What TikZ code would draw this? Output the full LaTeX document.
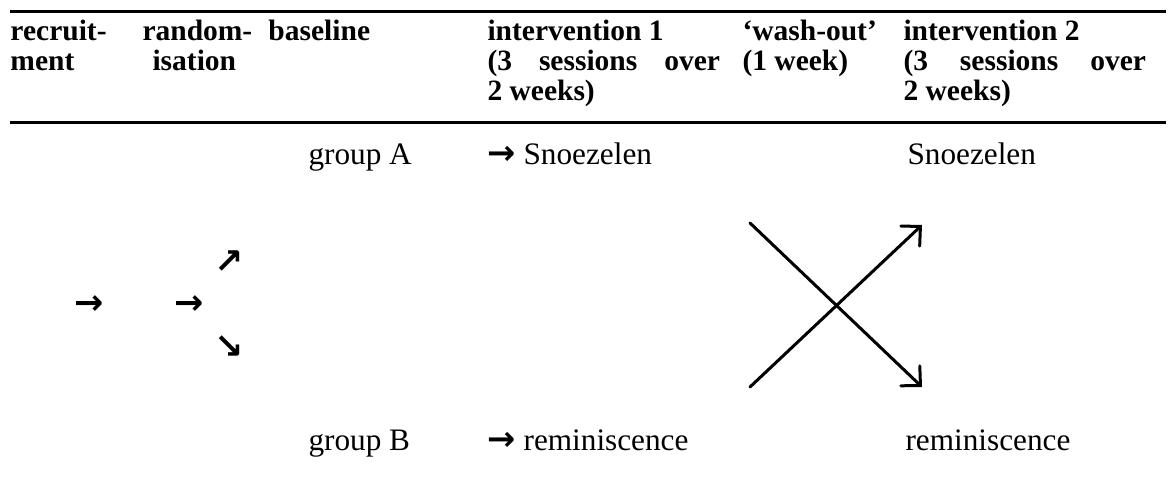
\documentclass[tikz,border=0pt]{standalone}
\usepackage{fontspec}
\setmainfont{Liberation Serif}
\newfontfamily\arrowfont{DejaVu Sans}
\usetikzlibrary{arrows.meta}
\newcommand{\Rarr}{{\arrowfont\bfseries →}}
\newcommand{\NEarr}{{\arrowfont\bfseries ↗}}
\newcommand{\SEarr}{{\arrowfont\bfseries ↘}}

\begin{document}
\begin{tikzpicture}[x=0.4pt, y=-0.4pt,
    every node/.style={anchor=base west, inner sep=0pt, font=\fontsize{12.5}{15}\selectfont},
    head/.style={font=\fontsize{11.8}{14}\selectfont\bfseries},
    glyph/.style={anchor=center, font=\fontsize{14}{16}\selectfont},
    rule/.style={line width=1.2pt},
    cross/.style={line width=1.2pt, line cap=round, -{Straight Barb[length=5.6pt, width=11pt, line cap=round]}}]
  \useasboundingbox (0,0) rectangle (1176,478);
  % table rules
  \coordinate (topL) at (10,12);  \coordinate (topR) at (1166,12);
  \coordinate (midL) at (10,123); \coordinate (midR) at (1166,123);
  \draw[rule] (topL) -- (topR);
  \draw[rule] (midL) -- (midR);
  % header row
  \node[head] (rec1)  at (10,41)  {recruit-};
  \node[head] (rec2)  at (10,71)  {ment};
  \node[head] (rnd1)  at (142,41) {random-};
  \node[head] (rnd2)  at (152,71) {isation};
  \node[head] (base)  at (268,41) {baseline};
  \node[head] (intA1) at (487,41) {intervention 1};
  \node[head] (intA2) at (487,71) {\makebox[93pt][s]{(3 sessions over}};
  \node[head] (intA3) at (487,101) {2 weeks)};
  \node[head] (wash1) at (742,41) {‘wash-out’};
  \node[head] (wash2) at (742,71) {(1 week)};
  \node[head] (intB1) at (903,41) {intervention 2};
  \node[head] (intB2) at (903,71) {\makebox[97pt][s]{(3 sessions over}};
  \node[head] (intB3) at (903,101) {2 weeks)};
  % body
  \node[glyph] (recA) at (89,305)  {\Rarr};
  \node[glyph] (rndA) at (189,305) {\Rarr};
  \node[glyph] (rndU) at (229,262) {\NEarr};
  \node[glyph] (rndD) at (229,347) {\SEarr};
  \node (grpA) at (308,165) {group A};
  \node (grpB) at (308,451) {group B};
  \node (fstA) at (487,165) {{\fontsize{13.5}{15}\selectfont\Rarr}\ Snoezelen};
  \node (fstB) at (487,451) {{\fontsize{13.5}{15}\selectfont\Rarr}\ reminiscence};
  \node (sndA) at (907,165) {Snoezelen};
  \node (sndB) at (905,451) {reminiscence};
  % cross-over
  \coordinate (xA) at (750,223); \coordinate (xB) at (922,387);
  \coordinate (xC) at (750,387); \coordinate (xD) at (922,225);
  \draw[cross] (xA) -- (xB);
  \draw[cross] (xC) -- (xD);
\end{tikzpicture}
\end{document}
